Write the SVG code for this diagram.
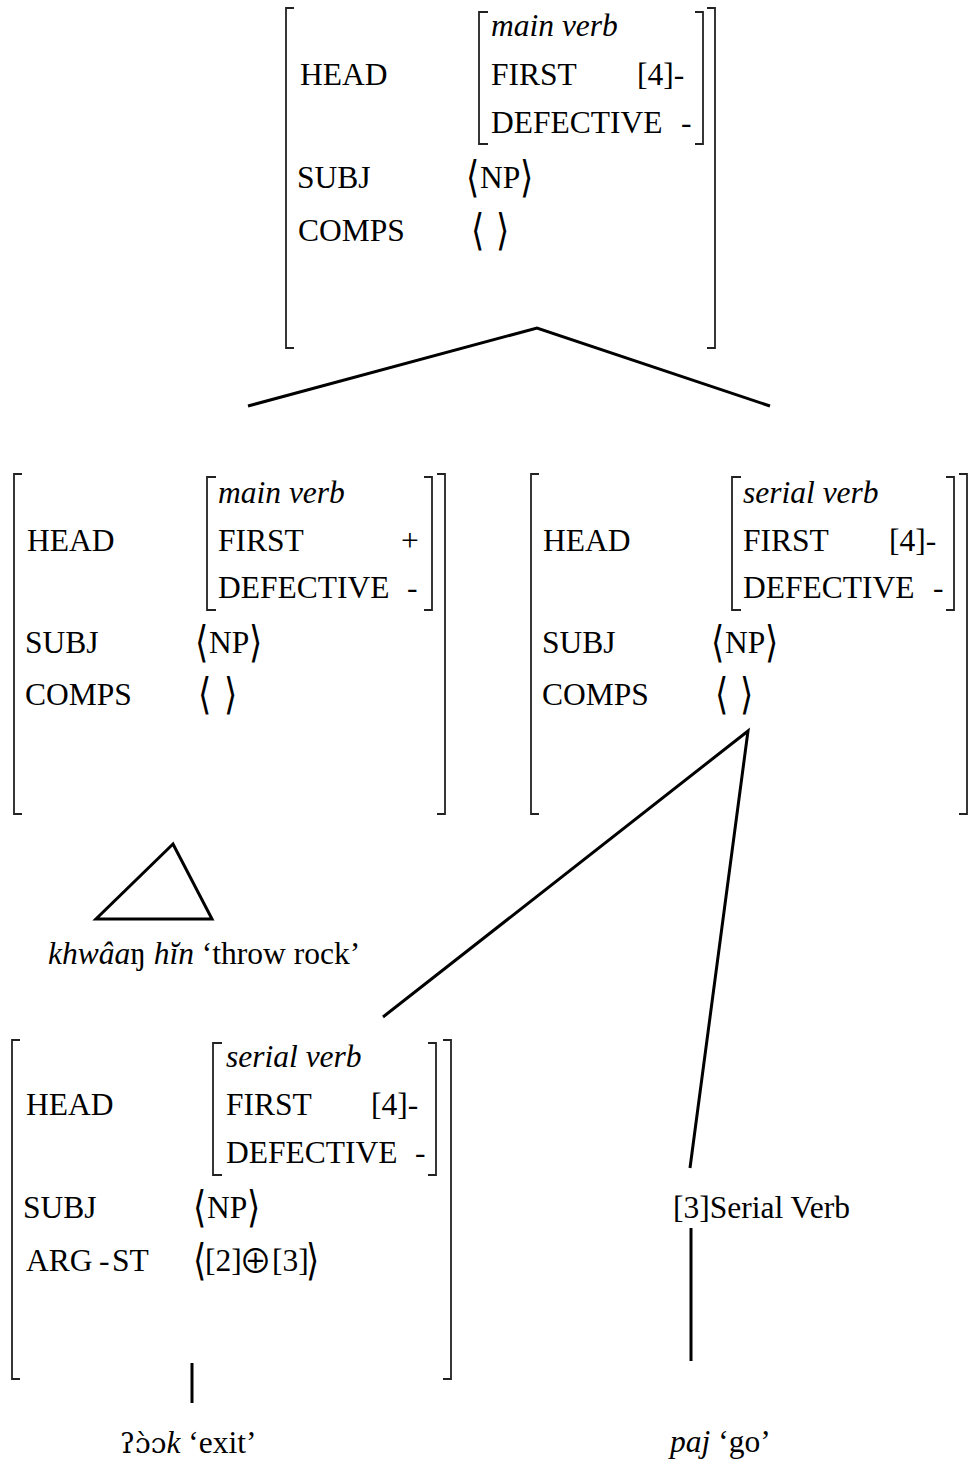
<svg xmlns="http://www.w3.org/2000/svg" width="969" height="1467" viewBox="0 0 969 1467">
<style>
text{font-family:"Liberation Serif","Times New Roman",serif;font-size:31.5px;fill:#000}
.it{font-style:italic}
.ang{font-family:"DejaVu Serif","Liberation Serif",serif;font-size:34px}
.op{font-family:"Noto Sans CJK JP","DejaVu Sans",sans-serif;font-size:33px}
.ipa{font-family:"DejaVu Serif","Liberation Serif",serif;font-size:28px}
.br{fill:none;stroke:#222;stroke-width:1.8}
.cn{fill:none;stroke:#000;stroke-width:3;stroke-linejoin:miter}
</style>
<rect width="969" height="1467" fill="#fff"/>

<g id="avm-top">
<path class="br" d="M294 8H286V348H294M707 8H715V348H707M488 12H479V144H488M695 12H703V144H695"/>
<text class="it" x="491" y="36">main verb</text>
<text x="300" y="85">HEAD</text>
<text x="491" y="85">FIRST</text>
<text x="637" y="85">[4]-</text>
<text x="491" y="133">DEFECTIVE</text>
<text x="681" y="133">-</text>
<text x="297" y="188">SUBJ</text>
<text class="ang" transform="translate(466,191.5) scale(1,1.27)">⟨</text>
<text x="480" y="188">NP</text>
<text class="ang" transform="translate(520,191.5) scale(1,1.27)">⟩</text>
<text x="298" y="241">COMPS</text>
<text class="ang" transform="translate(471,244.5) scale(1,1.27)">⟨</text>
<text class="ang" transform="translate(496,244.5) scale(1,1.27)">⟩</text>
</g>

<g id="avm-main">
<path class="br" d="M22 474H14V814H22M437 474H445V814H437M216 477H207V610H216M424 477H432V610H424"/>
<text class="it" x="218" y="503">main verb</text>
<text x="27" y="551">HEAD</text>
<text x="218" y="551">FIRST</text>
<text x="401" y="551">+</text>
<text x="218" y="598">DEFECTIVE</text>
<text x="407" y="598">-</text>
<text x="25" y="653">SUBJ</text>
<text class="ang" transform="translate(195,656.5) scale(1,1.27)">⟨</text>
<text x="209" y="653">NP</text>
<text class="ang" transform="translate(249,656.5) scale(1,1.27)">⟩</text>
<text x="25" y="705">COMPS</text>
<text class="ang" transform="translate(198,708.5) scale(1,1.27)">⟨</text>
<text class="ang" transform="translate(224,708.5) scale(1,1.27)">⟩</text>
</g>

<g id="avm-serial">
<path class="br" d="M539 474H531V814H539M959 474H967V814H959M741 477H732V610H741M946 477H954V610H946"/>
<text class="it" x="743" y="503">serial verb</text>
<text x="543" y="551">HEAD</text>
<text x="743" y="551">FIRST</text>
<text x="889" y="551">[4]-</text>
<text x="743" y="598">DEFECTIVE</text>
<text x="933" y="598">-</text>
<text x="542" y="653">SUBJ</text>
<text class="ang" transform="translate(711,656.5) scale(1,1.27)">⟨</text>
<text x="725" y="653">NP</text>
<text class="ang" transform="translate(765,656.5) scale(1,1.27)">⟩</text>
<text x="542" y="705">COMPS</text>
<text class="ang" transform="translate(715,708.5) scale(1,1.27)">⟨</text>
<text class="ang" transform="translate(740,708.5) scale(1,1.27)">⟩</text>
</g>

<g id="triangle-throw-rock">
<text x="48" y="964"><tspan class="it">khwâa</tspan>ŋ <tspan class="it">hĭn</tspan> ‘throw rock’</text>
</g>

<g id="avm-exit">
<path class="br" d="M20 1040H12V1379H20M443 1040H451V1379H443M222 1043H213V1175H222M428 1043H436V1175H428"/>
<text class="it" x="226" y="1067">serial verb</text>
<text x="26" y="1115">HEAD</text>
<text x="226" y="1115">FIRST</text>
<text x="371" y="1115">[4]-</text>
<text x="226" y="1163">DEFECTIVE</text>
<text x="415" y="1163">-</text>
<text x="23" y="1218">SUBJ</text>
<text class="ang" transform="translate(193,1221.5) scale(1,1.27)">⟨</text>
<text x="207" y="1218">NP</text>
<text class="ang" transform="translate(247,1221.5) scale(1,1.27)">⟩</text>
<text y="1271"><tspan x="26">ARG</tspan><tspan x="99">-</tspan><tspan x="112">ST</tspan></text>
<text class="ang" transform="translate(193,1274.5) scale(1,1.27)">⟨</text>
<text x="205" y="1271">[2]</text>
<text class="op" x="239" y="1273">⊕</text>
<text x="272" y="1271">[3]</text>
<text class="ang" transform="translate(306,1274.5) scale(1,1.27)">⟩</text>
</g>

<g id="serial-verb">
<text x="673" y="1218">[3]Serial Verb</text>
</g>

<g id="leaf-exit">
<text x="120" y="1453"><tspan class="ipa">ʔɔ̀ɔ</tspan><tspan class="it">k</tspan> ‘exit’</text>
</g>

<g id="leaf-go">
<text x="670" y="1452"><tspan class="it">paj</tspan> ‘go’</text>
</g>

<g id="connectors">
<polyline class="cn" points="248,406 537,328 770,406"/>
<polygon class="cn" points="173,844 96,919 212,919"/>
<polyline class="cn" points="383,1017 748,731 690,1168"/>
<line class="cn" x1="691" y1="1228" x2="691" y2="1361"/>
<line class="cn" x1="192" y1="1363" x2="192" y2="1403"/>
</g>
</svg>
